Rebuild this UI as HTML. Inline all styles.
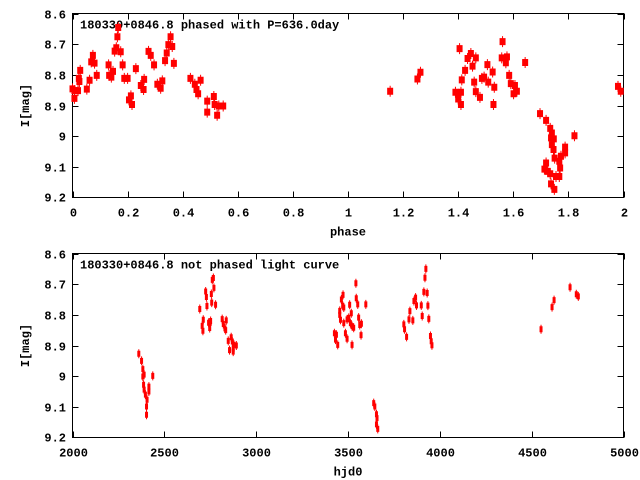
<!DOCTYPE html>
<html><head><meta charset="utf-8"><style>
html,body{margin:0;padding:0;background:#fff;}
svg{display:block;font-family:"Liberation Mono",monospace;font-weight:bold;font-size:12px;}
</style></head><body>
<svg id="chart" width="640" height="480" xmlns="http://www.w3.org/2000/svg">
<rect width="640" height="480" fill="#fff"/>
<g id="top"></g>
<g id="bot"></g>
</svg>
<script>
const phasedPhase=[0,0.007,0.007,0.02,0.023,0.028,0.025,0.052,0.062,0.068,0.074,0.08,0.088,0.131,0.133,0.141,0.147,0.153,0.159,0.166,0.163,0.175,0.182,0.188,0.2,0.205,0.216,0.212,0.23,0.248,0.258,0.26,0.276,0.284,0.296,0.308,0.32,0.326,0.336,0.342,0.348,0.356,0.362,0.368,0.428,0.444,0.45,0.456,0.465,0.489,0.489,0.513,0.525,0.531,0.547,0.516,
1.153,1.252,1.263,1.405,1.39,1.40,1.41,1.41,1.413,1.425,1.434,1.446,1.464,1.452,1.458,1.464,1.479,1.486,1.494,1.506,1.509,1.525,1.531,1.528,1.561,1.558,1.573,1.577,1.585,1.591,1.606,1.613,1.601,1.643,1.697,1.719,1.734,1.74,1.737,1.747,1.74,1.746,1.75,1.719,1.713,1.725,1.734,1.755,1.767,1.77,1.767,1.773,1.788,1.788,1.737,1.749,1.822,1.98,1.99];
const phasedMag=[8.844,8.875,8.85,8.85,8.81,8.784,8.82,8.845,8.816,8.756,8.735,8.76,8.80,8.766,8.80,8.806,8.787,8.721,8.71,8.644,8.674,8.723,8.766,8.81,8.81,8.88,8.895,8.867,8.778,8.833,8.846,8.813,8.722,8.735,8.766,8.829,8.842,8.818,8.752,8.727,8.70,8.674,8.706,8.761,8.81,8.829,8.846,8.86,8.816,8.884,8.92,8.869,8.93,8.90,8.90,8.895,
8.852,8.812,8.79,8.713,8.855,8.877,8.855,8.895,8.815,8.784,8.745,8.729,8.743,8.77,8.822,8.853,8.872,8.81,8.806,8.765,8.822,8.789,8.839,8.895,8.69,8.743,8.759,8.74,8.80,8.827,8.833,8.852,8.86,8.758,8.925,8.947,8.973,8.988,9.004,9.007,9.026,9.042,9.07,9.086,9.106,9.113,9.121,9.13,9.13,9.102,9.08,9.064,9.034,9.053,9.154,9.172,8.997,8.836,8.852];
const hjd=[2361,2376,2383,2383,2390,2387,2390,2397,2406,2403,2403,2416,2416,2437,2693,2706,2710,2712,2725,2729,2732,2741,2747,2750,2752,2756,2758,2761,2767,2770,2779,2815,2821,2837,2830,2834,2848,2864,2870,2879,2892,2855,2875,2875,
3426,3437,3432,3444,3455,3459,3455,3464,3473,3471,3477,3477,3486,3495,3495,3504,3513,3518,3522,3522,3509,3531,3543,3545,3553,3558,3564,3571,3573,3597,3640,3646,3655,3658,3655,3662,3804,3808,3819,3832,3837,3853,3859,3868,3873,3899,3904,3913,3919,3924,3931,3935,3940,3949,3953,3957,4551,4611,4622,4709,4743,4754];
const hjdMag=[8.927,8.95,8.977,9.001,8.995,9.028,9.044,9.06,9.077,9.099,9.126,9.034,9.05,8.999,8.781,8.836,8.852,8.816,8.724,8.742,8.771,8.826,8.843,8.826,8.82,8.732,8.76,8.686,8.68,8.712,8.767,8.814,8.83,8.818,8.844,8.85,8.885,8.873,8.887,8.898,8.90,8.915,8.92,8.91,
8.86,8.865,8.881,8.898,8.787,8.816,8.80,8.75,8.735,8.77,8.776,8.827,8.86,8.815,8.878,8.81,8.827,8.795,8.837,8.898,8.767,8.842,8.697,8.746,8.766,8.809,8.833,8.866,8.829,8.766,9.088,9.099,9.124,9.137,9.157,9.172,8.831,8.847,8.872,8.815,8.788,8.818,8.755,8.744,8.769,8.769,8.804,8.725,8.679,8.65,8.729,8.77,8.813,8.869,8.886,8.899,8.847,8.775,8.752,8.71,8.733,8.74];
const yTicks=["8.6","8.7","8.8","8.9","9","9.1","9.2"];
const phaseTicks=["0","0.2","0.4","0.6","0.8","1","1.2","1.4","1.6","1.8","2"];
const hjdTicks=["2000","2500","3000","3500","4000","4500","5000"];

const NS="http://www.w3.org/2000/svg";
function mk(parent,tag,attrs){const e=document.createElementNS(NS,tag);for(const k in attrs)e.setAttribute(k,attrs[k]);parent.appendChild(e);return e;}
const L=72.5,R=623.5;
function panel(g,T,B,xmin,xmax,xt,title,xlabel,xs,ys,big){
  const sx=v=>L+(v-xmin)/(xmax-xmin)*(R-L);
  const sy=v=>T+(v-8.6)/0.6*(B-T);
  const fr=mk(g,'rect',{x:L,y:T,width:R-L,height:B-T,fill:'none',stroke:'#000','stroke-width':1});
  
  
  yTicks.forEach(t=>{const y=Math.round(sy(+t))+0.5;
    mk(g,'line',{x1:L,x2:L+6,y1:y,y2:y,stroke:'#000'});mk(g,'line',{x1:R-6,x2:R,y1:y,y2:y,stroke:'#000'});
    const tx=mk(g,'text',{x:66,y:y+4,'text-anchor':'end'});tx.textContent=t;
    
    });
  xt.forEach(t=>{const x=Math.round(sx(+t))+0.5;
    mk(g,'line',{x1:x,x2:x,y1:B,y2:B-6,stroke:'#000'});mk(g,'line',{x1:x,x2:x,y1:T,y2:T+6,stroke:'#000'});
    const tx=mk(g,'text',{x:x,y:B+19,'text-anchor':'middle'});tx.textContent=t;
    
    });
  const ti=mk(g,'text',{x:80,y:T+15});ti.textContent=title;
  
  
  const xl=mk(g,'text',{x:(L+R)/2,y:B+38,'text-anchor':'middle'});xl.textContent=xlabel;
  
  
  const cy=(T+B)/2;
  const yl=mk(g,'text',{x:29,y:cy,'text-anchor':'middle',transform:'rotate(-90 29 '+cy+')'});yl.textContent='I[mag]';
  
  
  xs.forEach((v,i)=>{if(v<xmin||v>xmax)return;const x=sx(v),y=sy(ys[i]);
    const p=big?mk(g,'path',{d:`M${x-3},${y-3}h6v7h-6z M${x-0.5},${y-5}h1v11h-1z`,fill:'#f00'})
               :mk(g,'path',{d:`M${x-1.5},${y-3}h3v6h-3z M${x-0.5},${y-4.5}h1v9h-1z`,fill:'#f00'});
    
    });
}
panel(document.getElementById('top'),13.5,197.5,0,2,phaseTicks,'180330+0846.8 phased with P=636.0day','phase',phasedPhase,phasedMag,true);
panel(document.getElementById('bot'),253.5,437.5,2000,5000,hjdTicks,'180330+0846.8 not phased light curve','hjd0',hjd,hjdMag,false);
</script>
</body></html>
